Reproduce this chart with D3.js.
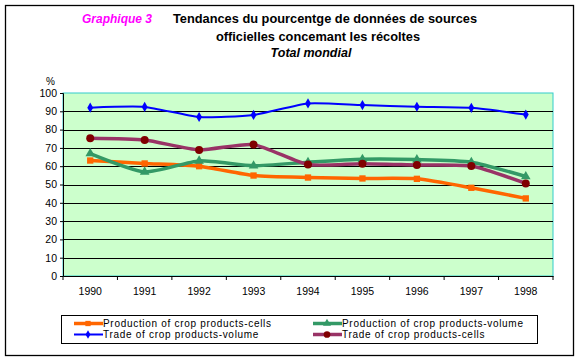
<!DOCTYPE html>
<html>
<head>
<meta charset="utf-8">
<script src="https://cdn.jsdelivr.net/npm/d3@7"></script>
<style>
  body { margin: 0; background: #fff; }
  text { font-family: "Liberation Sans", Arial, sans-serif; }
</style>
</head>
<body>
<div id="chart"></div>
<script>
var years = ["1990", "1991", "1992", "1993", "1994", "1995", "1996", "1997", "1998"];
var prodCells  = [63.1, 61.5, 60.0, 54.9, 53.8, 53.3, 53.1, 48.2, 42.4];
var prodVolume = [66.9, 56.9, 62.9, 60.2, 62.2, 63.8, 63.6, 62.2, 54.4];
var tradeVolume = [92.0, 92.4, 86.9, 88.0, 94.3, 93.4, 92.5, 91.9, 88.2];
var tradeCells = [75.3, 74.3, 68.9, 71.8, 60.9, 61.4, 60.7, 60.1, 50.6];
var yTicks = [0, 10, 20, 30, 40, 50, 60, 70, 80, 90, 100];

var series = [
  {name: "Production of crop products-cells", values: prodCells, color: "#FF6600", mark: "#FF6600", width: 3.5, shape: d3.symbolSquare, size: 40},
  {name: "Production of crop products-volume", values: prodVolume, color: "#339966", mark: "#339966", width: 3.5, shape: d3.symbolTriangle, size: 40},
  {name: "Trade of crop products-volume", values: tradeVolume, color: "#0000FF", mark: "#0000FF", width: 2, shape: d3.symbolDiamond, size: 30},
  {name: "Trade of crop products-cells", values: tradeCells, color: "#993366", mark: "#800000", width: 3.5, shape: d3.symbolCircle, size: 50}
];

var W = 580, H = 361;
var margin = {left: 63, right: 27, top: 93, bottom: 85};
var pw = W - margin.left - margin.right, ph = H - margin.top - margin.bottom;

var svg = d3.select("#chart").append("svg").attr("width", W).attr("height", H);

// outer frame
svg.append("rect").attr("x", 5.5).attr("y", 5.5).attr("width", 568).attr("height", 350)
  .attr("fill", "none").attr("stroke", "#000").attr("stroke-width", 1.3);

// titles
svg.append("text").attr("x", 82).attr("y", 23).text("Graphique 3")
  .attr("fill", "#FF00FF").attr("font-size", 12).attr("font-weight", "bold").attr("font-style", "italic");
svg.append("text").attr("x", 325).attr("y", 23).attr("text-anchor", "middle")
  .attr("font-size", 12.8).attr("font-weight", "bold").text("Tendances du pourcentge de données de sources");
svg.append("text").attr("x", 318).attr("y", 41).attr("text-anchor", "middle")
  .attr("font-size", 12.8).attr("font-weight", "bold").text("officielles concemant les récoltes");
svg.append("text").attr("x", 311).attr("y", 57).attr("text-anchor", "middle")
  .attr("font-size", 12.5).attr("font-weight", "bold").attr("font-style", "italic").text("Total mondial");

var g = svg.append("g").attr("transform", "translate(" + margin.left + "," + margin.top + ")");

var x = d3.scaleBand().domain(years).range([0, pw]);
var y = d3.scaleLinear().domain([0, 100]).range([ph, 0]);

g.append("rect").attr("width", pw).attr("height", ph).attr("fill", "#CCFFCC")
  .attr("stroke", "#33CCCC").attr("stroke-width", 1);

// grid
g.selectAll(".grid").data(yTicks.slice(1, -1)).enter().append("line")
  .attr("x1", 0).attr("x2", pw)
  .attr("y1", function(d) { return Math.round(y(d)) + 0.5; })
  .attr("y2", function(d) { return Math.round(y(d)) + 0.5; })
  .attr("stroke", "#000").attr("stroke-width", 1);

// axes
var yAxis = g.append("g").call(d3.axisLeft(y).tickValues(yTicks).tickSize(3).tickPadding(3));
yAxis.selectAll("text").attr("font-size", 10.5).attr("fill", "#000");
yAxis.select(".domain").attr("stroke", "#000");

var xAxis = g.append("g").attr("transform", "translate(0," + ph + ")")
  .call(d3.axisBottom(x).tickSize(0).tickPadding(12));
xAxis.selectAll("text").attr("font-size", 10.5).attr("fill", "#000");
xAxis.select(".domain").attr("stroke", "#000");
xAxis.selectAll(".bticks").data(d3.range(years.length + 1)).enter().append("line")
  .attr("x1", function(i) { return i * x.step(); }).attr("x2", function(i) { return i * x.step(); })
  .attr("y1", 0).attr("y2", 4).attr("stroke", "#000");

svg.append("text").attr("x", 46).attr("y", 85).attr("font-size", 10).text("%");

// lines
var line = d3.line()
  .x(function(d, i) { return x(years[i]) + x.bandwidth() / 2; })
  .y(function(d) { return y(d); })
  .curve(d3.curveCardinal.tension(0.4));

var draw = [series[0], series[1], series[3], series[2]];
draw.forEach(function(s) {
  g.append("path").datum(s.values).attr("d", line)
    .attr("fill", "none").attr("stroke", s.color).attr("stroke-width", s.width);
  g.selectAll(null).data(s.values).enter().append("path")
    .attr("d", d3.symbol().type(s.shape).size(s.size))
    .attr("transform", function(d, i) { return "translate(" + (x(years[i]) + x.bandwidth() / 2) + "," + y(d) + ")"; })
    .attr("fill", s.mark);
});

// legend
var lg = svg.append("g");
lg.append("rect").attr("x", 61.5).attr("y", 315.5).attr("width", 476).attr("height", 28)
  .attr("fill", "#fff").attr("stroke", "#000").attr("stroke-width", 1);
var pos = [[74, 323.5], [313, 323.5], [74, 334.5], [313, 334.5]];
series.forEach(function(s, i) {
  var p = pos[i];
  lg.append("line").attr("x1", p[0]).attr("x2", p[0] + 29).attr("y1", p[1]).attr("y2", p[1])
    .attr("stroke", s.color).attr("stroke-width", s.width);
  lg.append("path").attr("d", d3.symbol().type(s.shape).size(s.size * 0.7))
    .attr("transform", "translate(" + (p[0] + 14) + "," + p[1] + ")").attr("fill", s.mark);
  lg.append("text").attr("x", p[0] + 29).attr("y", p[1] + 3.5).attr("font-size", 10)
    .attr("letter-spacing", 0.7).text(s.name);
});
</script>
</body>
</html>
